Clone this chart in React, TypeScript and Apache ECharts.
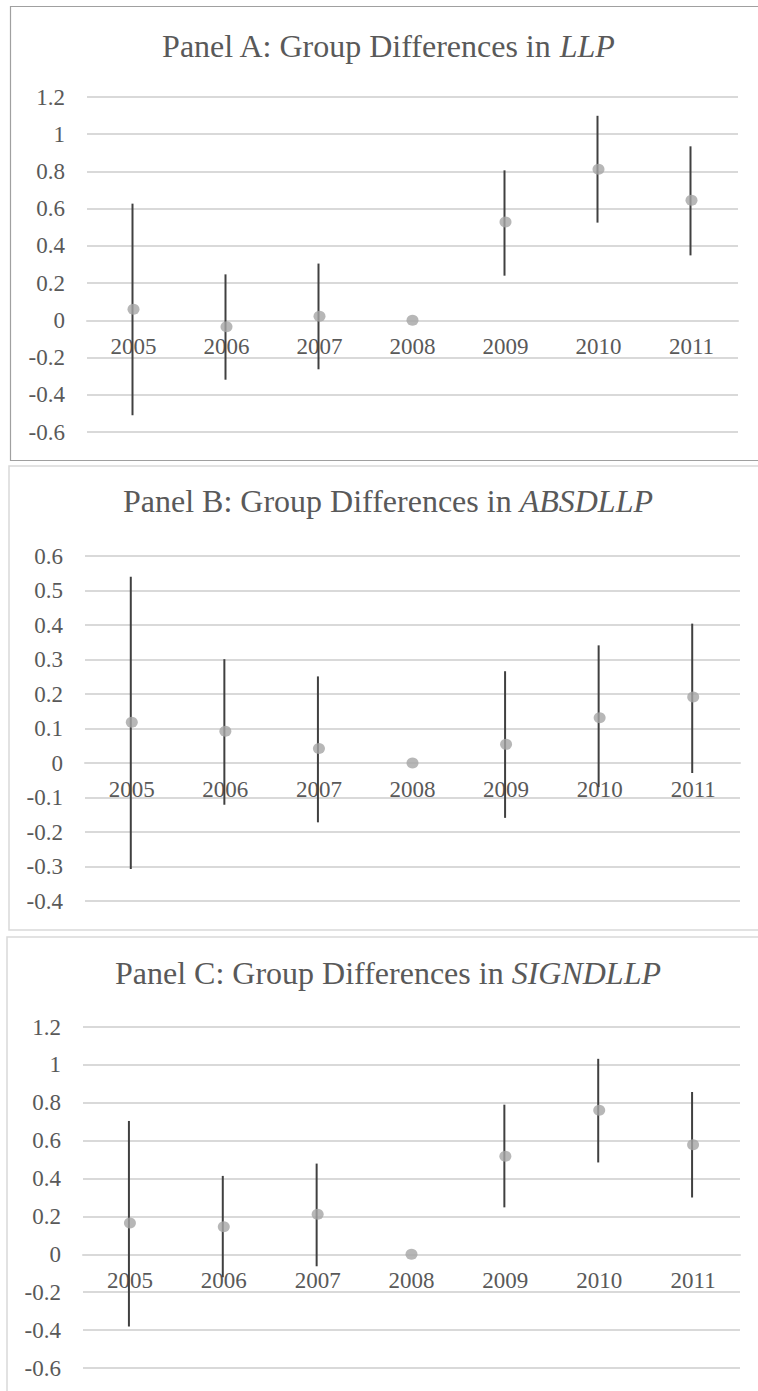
import React, { useEffect, useRef } from "react";
import * as echarts from "echarts";

const years = ["2005", "2006", "2007", "2008", "2009", "2010", "2011"];

const llpMean = [0.06, -0.035, 0.022, 0, 0.528, 0.812, 0.645];
const llpLow = [-0.51, -0.319, -0.263, null, 0.24, 0.525, 0.349];
const llpHigh = [0.627, 0.247, 0.305, null, 0.806, 1.099, 0.935];

const absMean = [0.118, 0.092, 0.042, 0, 0.054, 0.131, 0.191];
const absLow = [-0.307, -0.121, -0.172, null, -0.159, -0.07, -0.029];
const absHigh = [0.54, 0.301, 0.251, null, 0.266, 0.341, 0.404];

const signMean = [0.165, 0.146, 0.211, 0, 0.518, 0.76, 0.579];
const signLow = [-0.381, -0.121, -0.063, null, 0.248, 0.485, 0.3];
const signHigh = [0.704, 0.414, 0.479, null, 0.79, 1.032, 0.857];

const titleLabels = ["LLP", "ABSDLLP", "SIGNDLLP"];
const titlePrefixes = ["Panel A: Group Differences in ", "Panel B: Group Differences in ", "Panel C: Group Differences in "];

const yMins = [-0.6, -0.4, -0.6];
const yMaxs = [1.2, 0.6, 1.2];
const yIntervals = [0.2, 0.1, 0.2];

const FONT = "Liberation Serif";
const TXT = "#595959";

export default function App() {
  const ref = useRef<HTMLDivElement>(null);
  useEffect(() => {
    if (!ref.current) return;
    const chart = echarts.init(ref.current, null, { renderer: "svg" });

    const grids = [
      { left: 87, top: 97, width: 651, height: 335 },
      { left: 85, top: 556, width: 655, height: 345 },
      { left: 83, top: 1027, width: 657, height: 341 },
    ];
    const titleTops = [30, 485, 957];
    const means = [llpMean, absMean, signMean];
    const lows = [llpLow, absLow, signLow];
    const highs = [llpHigh, absHigh, signHigh];

    const series: any[] = [];
    for (let k = 0; k < 3; k++) {
      const barData: any[] = [];
      years.forEach((_, i) => {
        if (lows[k][i] !== null && highs[k][i] !== null) {
          barData.push([i, lows[k][i], highs[k][i]]);
        }
      });
      series.push({
        type: "custom",
        xAxisIndex: k,
        yAxisIndex: k,
        data: barData,
        encode: { x: 0, y: [1, 2] },
        z: 2,
        renderItem: (params: any, api: any) => {
          const i = api.value(0);
          const p1 = api.coord([i, api.value(1)]);
          const p2 = api.coord([i, api.value(2)]);
          return {
            type: "line",
            shape: { x1: p1[0] - 1, y1: p1[1], x2: p2[0] - 1, y2: p2[1] },
            style: { stroke: "#404040", lineWidth: 2 },
          };
        },
      });
      series.push({
        type: "scatter",
        xAxisIndex: k,
        yAxisIndex: k,
        data: means[k],
        symbol: "circle",
        symbolSize: [12, 11],
        itemStyle: { color: "#a5a5a5" },
        z: 3,
      });
    }

    chart.setOption({
      animation: false,
      backgroundColor: "#ffffff",
      title: titlePrefixes.map((p, k) => ({
        text: `{n|${p}}{i|${titleLabels[k]}}`,
        left: 388,
        textAlign: "center",
        top: titleTops[k],
        padding: 0,
        textStyle: {
          fontFamily: FONT,
          fontWeight: "normal",
          fontSize: 32,
          color: TXT,
          rich: {
            n: { fontSize: 32, fontFamily: FONT, color: TXT, fontWeight: "normal" },
            i: { fontSize: 32, fontFamily: FONT, color: TXT, fontWeight: "normal", fontStyle: "italic" },
          },
        },
      })),
      graphic: [
        { type: "rect", shape: { x: 10.5, y: 6.5, width: 760, height: 454 }, style: { fill: "none", stroke: "#a0a0a0", lineWidth: 1.2 }, silent: true },
        { type: "rect", shape: { x: 9, y: 466, width: 760, height: 464 }, style: { fill: "none", stroke: "#d9d9d9", lineWidth: 1.5 }, silent: true },
        { type: "rect", shape: { x: 7, y: 937, width: 760, height: 470 }, style: { fill: "none", stroke: "#d9d9d9", lineWidth: 1.5 }, silent: true },
      ],
      grid: grids.map((g) => ({ ...g, containLabel: false })),
      xAxis: grids.map((g, k) => ({
        type: "category",
        gridIndex: k,
        data: years,
        boundaryGap: true,
        offset: -g.height * (0 - yMins[k]) / (yMaxs[k] - yMins[k]),
        axisLine: { show: true, onZero: false, lineStyle: { color: "#d9d9d9", width: 2 } },
        axisTick: { show: false },
        axisLabel: { margin: 15, fontSize: 23, fontFamily: FONT, color: TXT, interval: 0 },
        splitLine: { show: false },
      })),
      yAxis: grids.map((_, k) => ({
        type: "value",
        gridIndex: k,
        min: yMins[k],
        max: yMaxs[k],
        interval: yIntervals[k],
        axisLine: { show: false },
        axisTick: { show: false },
        axisLabel: { margin: 22, fontSize: 23, fontFamily: FONT, color: TXT },
        splitLine: { show: true, lineStyle: { color: "#d9d9d9", width: 2 } },
      })),
      series,
    });
    return () => chart.dispose();
  }, []);
  return (
    <div
      ref={ref}
      style={{ position: "absolute", left: 0, top: 0, width: 758, height: 1391, background: "#fff" }}
    />
  );
}
